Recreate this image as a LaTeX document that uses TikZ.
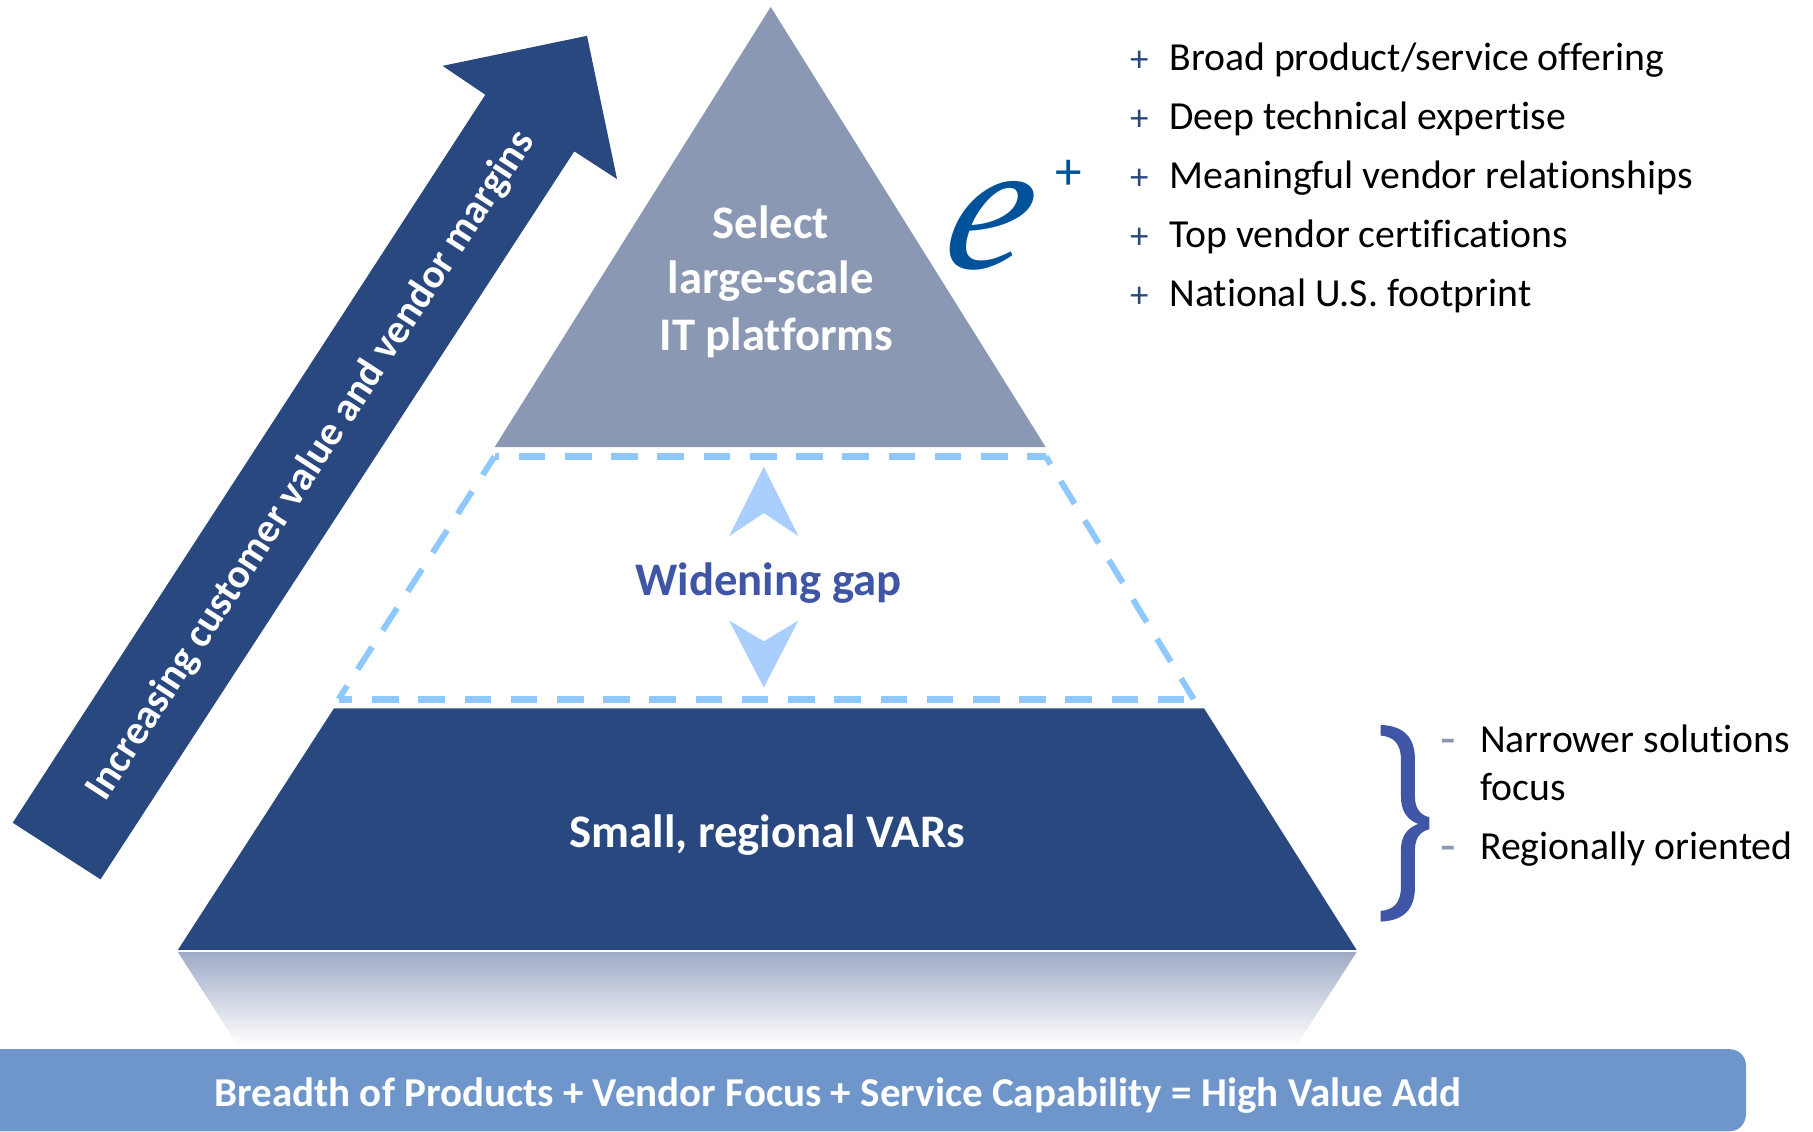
\documentclass[tikz,border=0pt]{standalone}
\usepackage{fontspec}
\setmainfont{Carlito}[Ligatures=NoCommon]
\newfontfamily\serifit[ItalicFont=Liberation Serif Italic]{Liberation Serif}
\definecolor{navy}{HTML}{2A4880}
\definecolor{slate}{HTML}{8A98B4}
\definecolor{dashblue}{HTML}{8EC8FF}
\definecolor{arrowblue}{HTML}{AACFFF}
\definecolor{gapblue}{HTML}{3F55A5}
\definecolor{barblue}{HTML}{6F96CA}
\definecolor{eblue}{HTML}{00529B}
\definecolor{reflect}{HTML}{9FABC6}
\tikzset{
  x=0.5pt,y=-0.5pt,
  bodytext/.style={anchor=base west,inner sep=0pt,outer sep=0pt,text=black,font=\fontsize{17.2}{17.2}\selectfont},
  plusmark/.style={anchor=center,inner sep=0pt,text=navy,font=\fontsize{16}{16}\selectfont},
  dashmark/.style={anchor=center,inner sep=0pt,text=slate,font=\fontsize{22}{22}\selectfont},
  headtext/.style={anchor=base,inner sep=0pt,text=white,font=\bfseries\fontsize{20.2}{20.2}\selectfont},
  smallarrow/.style={fill=arrowblue,draw=none},
  gapline/.style={draw=dashblue,line width=3pt},
}
\begin{document}
\begin{tikzpicture}
\useasboundingbox (0,0) rectangle (1569,979);
% big arrow
\fill[navy] (11,712) -- (420,82) -- (383,57) -- (508,31) -- (534,155) -- (497,131) -- (87,761) -- cycle;
\node[rotate=57,anchor=base west,inner sep=0pt,text=white,font=\bfseries\fontsize{17.7}{17.7}\selectfont] (arrowtext) at (91,695) {Increasing customer value and vendor margins};
% pyramid
\fill[slate] (667,6) -- (905,387) -- (428,387) -- cycle;
\fill[navy] (289,613) -- (1042,613) -- (1174,822) -- (154,822) -- cycle;
\shade[top color=reflect,bottom color=white] (154,824) -- (1174,824) -- (1122,905) -- (206,905) -- cycle;
% bar
\fill[barblue] (-20,908) -- (1497,908) to[out=0,in=90] (1511,922) -- (1511,964) to[out=-90,in=0] (1497,979) -- (-20,979) -- cycle;
% dashed gap
\coordinate (tl) at (428,395);
\coordinate (tr) at (905,395);
\coordinate (br) at (1033,605);
\coordinate (bl) at (293,605);
\draw[gapline,dash pattern=on 11.5pt off 8.5pt,dash phase=9.5pt] (tl) -- (tr);
\draw[gapline,dash pattern=on 11.5pt off 8.5pt,dash phase=5.5pt] (bl) -- (br);
\draw[gapline,line width=2.6pt,dash pattern=on 11.5pt off 8.5pt,dash phase=2pt] (tl) -- (bl);
\draw[gapline,line width=2.6pt,dash pattern=on 11.5pt off 8.5pt,dash phase=7.5pt] (tr) -- (br);
\fill[smallarrow] (661,404) -- (691,464) -- (661,444) -- (631,464) -- cycle;
\fill[smallarrow] (661,595) -- (691,537) -- (661,555) -- (631,537) -- cycle;
% labels
\node[headtext] (sel1) at (667,206) {Select};
\node[headtext] (sel2) at (667,254) {large-scale};
\node[headtext] (sel3) at (672,303) {IT platforms};
\node[headtext,text=gapblue] (gap) at (665,515.5) {Widening gap};
\node[headtext] (vars) at (664,733.5) {Small, regional VARs};
\node[headtext,font=\bfseries\fontsize{17.75}{17.75}\selectfont] (bar) at (725,958) {Breadth of Products + Vendor Focus + Service Capability = High Value Add};
% e+
\node[cm={1,0,0.25,1,(848,232)},transform shape,anchor=base,inner sep=0pt,text=eblue,font=\serifit\itshape\fontsize{80}{80}\selectfont] (elogo) at (0,0) {e};
\node[anchor=center,inner sep=0pt,text=eblue,font=\fontsize{23}{23}\selectfont] (eplus) at (925,151) {+};
% list
\node[plusmark] (p1) at (986,53) {+};
\node[plusmark] (p2) at (986,104) {+};
\node[plusmark] (p3) at (986,155) {+};
\node[plusmark] (p4) at (986,206) {+};
\node[plusmark] (p5) at (986,257) {+};
\node[bodytext] (t1) at (1012,61) {Broad product/service offering};
\node[bodytext] (t2) at (1012,112) {Deep technical expertise};
\node[bodytext] (t3) at (1012,163) {Meaningful vendor relationships};
\node[bodytext] (t4) at (1012,214) {Top vendor certifications};
\node[bodytext] (t5) at (1012,265) {National U.S. footprint};
% brace
\begin{scope}[shift={(1159.6,605.7)},x=0.14425pt,y=-0.14425pt]
\fill[gapblue] (122,75) .. controls (190,78) and (225,110) .. (225,180) -- (225,290)
 .. controls (225,325) and (240,345) .. (268,352) -- (268,388)
 .. controls (240,395) and (225,415) .. (225,450) -- (225,560)
 .. controls (225,630) and (190,662) .. (122,665) -- (122,633)
 .. controls (160,630) and (183,610) .. (183,560) -- (183,450)
 .. controls (183,410) and (200,385) .. (235,372)
 .. controls (200,360) and (183,330) .. (183,290) -- (183,180)
 .. controls (183,130) and (160,110) .. (122,107) -- cycle;
\end{scope}
\node[dashmark] (d1) at (1253,646.5) {-};
\node[dashmark] (d2) at (1253,739) {-};
\node[bodytext] (n1) at (1281,651) {Narrower solutions};
\node[bodytext] (n2) at (1281,693) {focus};
\node[bodytext] (n3) at (1281,744) {Regionally oriented};
\end{tikzpicture}
\end{document}
